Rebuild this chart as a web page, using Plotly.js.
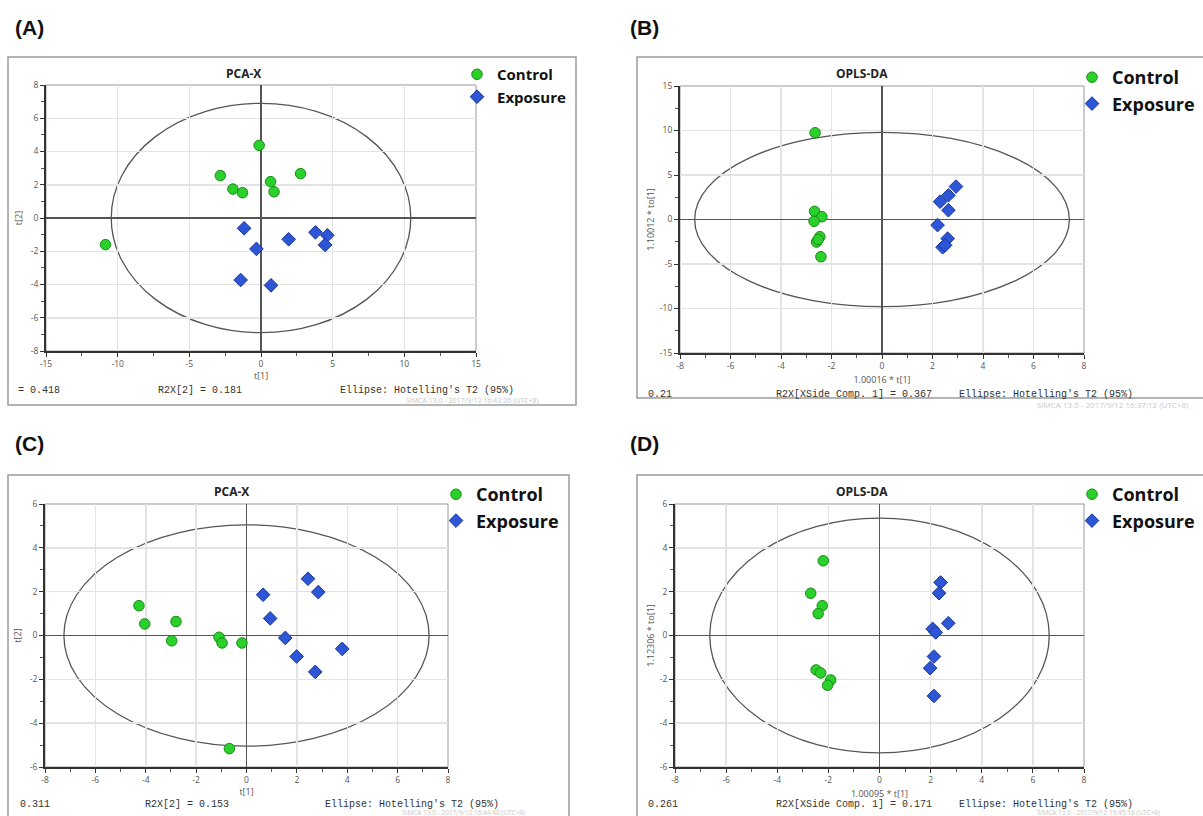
<!DOCTYPE html>
<html><head><meta charset="utf-8">
<script src="https://cdn.plot.ly/plotly-3.0.1.min.js"></script>
<style>html,body{margin:0;padding:0;background:#fff}#chart{width:1203px;height:816px}</style>
</head><body><div id="chart"></div>
<script>
// ---------------- DATA ----------------
const groups = ["Control", "Exposure"];
const panelLabels = ["(A)", "(B)", "(C)", "(D)"];
const panelTitles = ["PCA-X", "OPLS-DA", "PCA-X", "OPLS-DA"];
const xTitles = ["t[1]", "1.00016 * t[1]", "t[1]", "1.00095 * t[1]"];
const yTitles = ["t[2]", "1.10012 * to[1]", "t[2]", "1.12306 * to[1]"];

const controlA_x = [-0.13, -2.84, -1.96, -1.29, 0.67, 0.91, 2.76, -10.85];
const controlA_y = [4.37, 2.55, 1.74, 1.52, 2.19, 1.58, 2.67, -1.60];
const exposureA_x = [-1.18, -0.32, -1.42, 0.70, 1.93, 3.80, 4.63, 4.47];
const exposureA_y = [-0.62, -1.86, -3.73, -4.05, -1.28, -0.86, -1.04, -1.62];

const controlB_x = [-2.65, -2.67, -2.38, -2.69, -2.46, -2.59, -2.53, -2.42];
const controlB_y = [9.75, 0.92, 0.31, -0.20, -1.93, -2.53, -2.25, -4.18];
const exposureB_x = [2.93, 2.63, 2.30, 2.63, 2.20, 2.60, 2.40, 2.50];
const exposureB_y = [3.70, 2.72, 2.00, 1.05, -0.63, -2.15, -3.12, -2.90];

const controlC_x = [-4.27, -4.04, -2.80, -2.97, -1.09, -0.97, -0.18, -0.68];
const controlC_y = [1.36, 0.53, 0.64, -0.24, -0.08, -0.34, -0.34, -5.16];
const exposureC_x = [0.66, 0.94, 1.54, 1.99, 2.44, 2.85, 2.73, 3.80];
const exposureC_y = [1.86, 0.78, -0.11, -0.96, 2.59, 1.98, -1.66, -0.61];

const controlD_x = [-2.20, -2.69, -2.24, -2.40, -2.48, -2.30, -1.91, -2.03];
const controlD_y = [3.41, 1.93, 1.36, 1.00, -1.57, -1.71, -2.03, -2.27];
const exposureD_x = [2.39, 2.33, 2.69, 2.08, 2.20, 2.13, 1.98, 2.13];
const exposureD_y = [2.42, 1.93, 0.56, 0.30, 0.14, -0.96, -1.49, -2.76];

// Hotelling's T2 ellipse semi-axes [x, y]
const ellipseA = [10.45, 6.90];
const ellipseB = [7.42, 9.80];
const ellipseC = [7.25, 5.05];
const ellipseD = [6.64, 5.36];

const xTicksA = [-15, -10, -5, 0, 5, 10, 15];
const yTicksA = [-8, -6, -4, -2, 0, 2, 4, 6, 8];
const xTicksB = [-8, -6, -4, -2, 0, 2, 4, 6, 8];
const yTicksB = [-15, -10, -5, 0, 5, 10, 15];
const xTicksC = [-8, -6, -4, -2, 0, 2, 4, 6, 8];
const yTicksC = [-6, -4, -2, 0, 2, 4, 6];
const xTicksD = [-8, -6, -4, -2, 0, 2, 4, 6, 8];
const yTicksD = [-6, -4, -2, 0, 2, 4, 6];

const statsA = ["= 0.418", "R2X[2] = 0.181", "Ellipse: Hotelling's T2 (95%)", "SIMCA 13.0 - 2017/9/12 16:43:26 (UTC+8)"];
const statsB = ["0.21", "R2X[XSide Comp. 1] = 0.367", "Ellipse: Hotelling's T2 (95%)", "SIMCA 13.0 - 2017/9/12 16:37:12 (UTC+8)"];
const statsC = ["0.311", "R2X[2] = 0.153", "Ellipse: Hotelling's T2 (95%)", "SIMCA 13.0 - 2017/9/12 16:44:40 (UTC+8)"];
const statsD = ["0.261", "R2X[XSide Comp. 1] = 0.171", "Ellipse: Hotelling's T2 (95%)", "SIMCA 13.0 - 2017/9/12 16:45:18 (UTC+8)"];

// ---------------- LAYOUT HELPERS ----------------
const W = 1203, H = 816;
const px = v => v / W;
const py = v => 1 - v / H;

const panels = [
  {cx: controlA_x, cy: controlA_y, ex: exposureA_x, ey: exposureA_y, ell: ellipseA, xt: xTicksA, yt: yTicksA, stats: statsA,
   plot: [46, 476, 85, 351], frame: [8, 576, 57, 405], label: [13, 28], title: [243, 73],
   legend: [457, 58], legendFont: 15, gap: 0, xminor: 2.5, yminor: 1,
   statY: 390, statX: [16, 156, 338], simca: [404, 400.5], simcaSize: 7, xstand: 2, ystand: 7},
  {cx: controlB_x, cy: controlB_y, ex: exposureB_x, ey: exposureB_y, ell: ellipseB, xt: xTicksB, yt: yTicksB, stats: statsB,
   plot: [680, 1084, 86, 353], frame: [637, 1215, 57, 398], label: [628, 28], title: [862, 73],
   legend: [1072, 59], legendFont: 18, gap: 0, xminor: 1, yminor: 2.5,
   statY: 394, statX: [646, 774, 957], simca: [1035, 404], simcaSize: 8, xstand: 6, ystand: 4},
  {cx: controlC_x, cy: controlC_y, ex: exposureC_x, ey: exposureC_y, ell: ellipseC, xt: xTicksC, yt: yTicksC, stats: statsC,
   plot: [45, 448, 504, 767], frame: [8, 569, 475, 830], label: [13, 444], title: [231, 491],
   legend: [436, 476], legendFont: 18, gap: 0, xminor: 1, yminor: 1,
   statY: 804, statX: [18, 143, 323], simca: [400, 812], simcaSize: 6.5, xstand: 2, ystand: 7},
  {cx: controlD_x, cy: controlD_y, ex: exposureD_x, ey: exposureD_y, ell: ellipseD, xt: xTicksD, yt: yTicksD, stats: statsD,
   plot: [675, 1084, 504, 767], frame: [637, 1215, 475, 830], label: [628, 444], title: [862, 491],
   legend: [1072, 476], legendFont: 18, gap: 0, xminor: 1, yminor: 1,
   statY: 804, statX: [646, 774, 957], simca: [1035, 812], simcaSize: 6.5, xstand: 6, ystand: 4}
];

const greenFill = '#2bd12b', greenLine = '#178a17';
const blueFill = '#2d56d6', blueLine = '#1a3596';
const tickFont = {family: 'Open Sans, DejaVu Sans, sans-serif', size: 8.5, color: '#555'};
const monoFont = {family: 'Liberation Mono, DejaVu Sans Mono, monospace', size: 10, color: '#333'};

const traces = [];
const layout = {
  width: W, height: H, margin: {l: 0, r: 0, t: 0, b: 0},
  paper_bgcolor: '#fff', plot_bgcolor: '#fff',
  showlegend: true, shapes: [], annotations: [],
  font: {family: 'Open Sans, sans-serif'}
};

panels.forEach((p, i) => {
  const n = i + 1;
  const xa = 'x' + (n === 1 ? '' : n), ya = 'y' + (n === 1 ? '' : n);
  const xKey = 'xaxis' + (n === 1 ? '' : n), yKey = 'yaxis' + (n === 1 ? '' : n);
  const legKey = 'legend' + (n === 1 ? '' : n);

  traces.push({
    type: 'scatter', mode: 'markers', x: p.cx, y: p.cy, name: groups[0],
    xaxis: xa, yaxis: ya, legend: legKey, legendgroup: 'c' + n,
    marker: {symbol: 'circle', size: 10.5, color: greenFill, line: {color: greenLine, width: 1}},
    hoverinfo: 'x+y'
  });
  traces.push({
    type: 'scatter', mode: 'markers', x: p.ex, y: p.ey, name: groups[1],
    xaxis: xa, yaxis: ya, legend: legKey, legendgroup: 'e' + n,
    marker: {symbol: 'diamond', size: 10.5, color: blueFill, line: {color: blueLine, width: 1}},
    hoverinfo: 'x+y'
  });

  const xr = [p.xt[0], p.xt[p.xt.length - 1]];
  const yr = [p.yt[0], p.yt[p.yt.length - 1]];
  layout[xKey] = {
    domain: [px(p.plot[0]), px(p.plot[1])], range: xr, anchor: ya,
    tickvals: p.xt, ticktext: p.xt.map(String), tickfont: tickFont,
    ticks: 'outside', ticklen: 4, tickcolor: '#333', tickwidth: 1,
    minor: {dtick: p.xminor, tick0: 0, ticks: 'outside', ticklen: 3, tickcolor: '#555', showgrid: false},
    showgrid: true, gridcolor: '#e3e3e3', gridwidth: 1.5,
    zeroline: true, zerolinecolor: '#555', zerolinewidth: 1.5,
    showline: true, linecolor: '#333', linewidth: 2,
    title: {text: xTitles[i], font: {family: 'Open Sans, sans-serif', size: 9, color: '#555'}, standoff: p.xstand},
    fixedrange: true
  };
  layout[yKey] = {
    domain: [py(p.plot[3]), py(p.plot[2])], range: yr, anchor: xa,
    tickvals: p.yt, ticktext: p.yt.map(String), tickfont: tickFont,
    ticks: 'outside', ticklen: 4, tickcolor: '#333', tickwidth: 1,
    minor: {dtick: p.yminor, tick0: 0, ticks: 'outside', ticklen: 3, tickcolor: '#555', showgrid: false},
    showgrid: true, gridcolor: '#e3e3e3', gridwidth: 1.5,
    zeroline: true, zerolinecolor: '#555', zerolinewidth: 1.5,
    showline: true, linecolor: '#333', linewidth: 2,
    title: {text: yTitles[i], font: {family: 'Open Sans, sans-serif', size: 9, color: '#555'}, standoff: p.ystand},
    fixedrange: true
  };

  layout[legKey] = {
    x: px(p.legend[0]), y: py(p.legend[1]), xanchor: 'left', yanchor: 'top',
    bgcolor: 'rgba(0,0,0,0)', borderwidth: 0,
    font: {family: 'Open Sans, sans-serif', size: p.legendFont, color: '#111', weight: 'bold'},
    traceorder: 'grouped', tracegroupgap: p.gap, itemsizing: 'trace'
  };

  // plot frame (top/right thin)
  layout.shapes.push({type: 'rect', xref: xa + ' domain', yref: ya + ' domain', x0: 0, x1: 1, y0: 0, y1: 1,
    line: {color: '#999', width: 1}, layer: 'below'});
  // ellipse
  layout.shapes.push({type: 'circle', xref: xa, yref: ya,
    x0: -p.ell[0], x1: p.ell[0], y0: -p.ell[1], y1: p.ell[1],
    line: {color: '#555', width: 1.3}, layer: 'below'});
  // outer panel frame
  layout.shapes.push({type: 'rect', xref: 'paper', yref: 'paper',
    x0: px(p.frame[0]), x1: px(p.frame[1]), y0: py(p.frame[3]), y1: py(p.frame[2]),
    line: {color: '#9a9a9a', width: 1.5}});

  // panel label
  layout.annotations.push({xref: 'paper', yref: 'paper', x: px(p.label[0]), y: py(p.label[1]),
    xanchor: 'left', yanchor: 'middle', showarrow: false, text: panelLabels[i],
    font: {family: 'Liberation Sans, Arial, sans-serif', size: 21, color: '#111', weight: 'bold'}});
  // panel title
  layout.annotations.push({xref: 'paper', yref: 'paper', x: px(p.title[0]), y: py(p.title[1]),
    xanchor: 'center', yanchor: 'middle', showarrow: false, text: '<b>' + panelTitles[i] + '</b>',
    font: {family: 'Open Sans, sans-serif', size: 12, color: '#222'}});
  // stats texts
  for (let k = 0; k < 3; k++) {
    layout.annotations.push({xref: 'paper', yref: 'paper', x: px(p.statX[k]), y: py(p.statY),
      xanchor: 'left', yanchor: 'middle', showarrow: false, text: p.stats[k], font: monoFont});
  }
  layout.annotations.push({xref: 'paper', yref: 'paper', x: px(p.simca[0]), y: py(p.simca[1]),
    xanchor: 'left', yanchor: 'middle', showarrow: false, text: p.stats[3],
    font: {family: 'Open Sans, sans-serif', size: p.simcaSize, color: '#c8c8c8'}});
});

Plotly.newPlot('chart', traces, layout, {staticPlot: true, displayModeBar: false});
</script>
</body></html>
